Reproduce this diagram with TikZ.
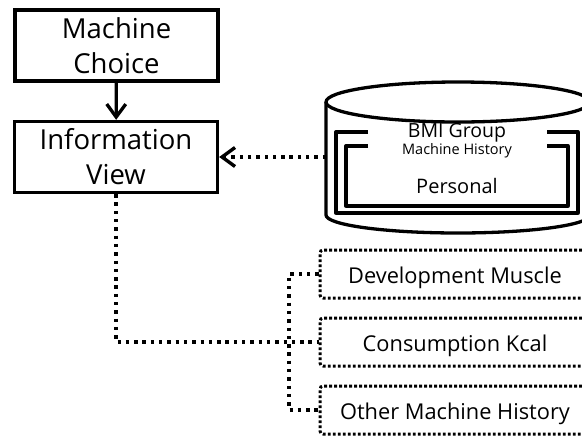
\documentclass[tikz,border=0pt]{standalone}
\usepackage{fontspec}
\setmainfont{Open Sans}
\usetikzlibrary{arrows.meta}
\usetikzlibrary{positioning}

\tikzset{
  mainbox/.style={draw, line width=3.3pt, minimum width=203pt, minimum height=71pt,
                  inner sep=0pt, align=center, font=\fontsize{27.5}{35}\selectfont},
  sidebox/.style={draw, line width=3pt, dash pattern=on 2.8pt off 2.2pt, rounded corners=3pt,
                  minimum width=270pt, minimum height=48pt, inner sep=0pt,
                  text height=20pt, text depth=2pt,
                  font=\fontsize{21.8}{25}\selectfont},
  dotline/.style={line width=3.4pt, dash pattern=on 3.4pt off 4.9pt},
  dbline/.style={line width=3.3pt, line join=round},
  barbtip/.style={-{Straight Barb[length=13pt,width=19pt]}}
}

\begin{document}
\begin{tikzpicture}[x=1pt, y=-1pt]
            \useasboundingbox (0,0) rectangle (582,437);
            % left column
            \node[mainbox] (choice) at (116.5, 45.5) {Machine\\Choice};
            \node[mainbox] (info)   at (116.0,157.0) {Information\\View};
            \draw[line width=3.3pt, barbtip] (choice) -- (info);
            % database
            \draw[dbline] (326,102) -- (326,215) arc[start angle=180, end angle=360, x radius=132pt, y radius=18pt] -- (590,102);
            \draw[dbline] (458,102) ellipse [x radius=132pt, y radius=20pt];
            \draw[dbline] (368,132) -- (336,132) -- (336,213) -- (578,213) -- (578,132) -- (547,132);
            \draw[dbline] (368,146) -- (346,146) -- (346,206) -- (568,206) -- (568,146) -- (547,146);
            \node[font=\fontsize{19.5}{22}\selectfont] (bmi)  at (457,133) {BMI Group};
            \node[font=\fontsize{14.5}{16}\selectfont] (hist) at (457,151) {Machine History};
            \node[font=\fontsize{20}{24}\selectfont]   (pers) at (457,186) {Personal};
            \coordinate (dbleft) at (326,157);
            \draw[dotline, barbtip] (dbleft) -- (info.east);
            % results
            \node[sidebox] (muscle) at (455,274) {Development Muscle};
            \node[sidebox] (kcal)   at (455,342) {Consumption Kcal};
            \node[sidebox] (other)  at (455,410) {Other Machine History};
            \coordinate (fork) at (289,342);
            \draw[dotline] (info.south) |- (kcal.west);
            \draw[dotline] (muscle.west) -| (fork) |- (other.west);
        \end{tikzpicture}
\end{document}
